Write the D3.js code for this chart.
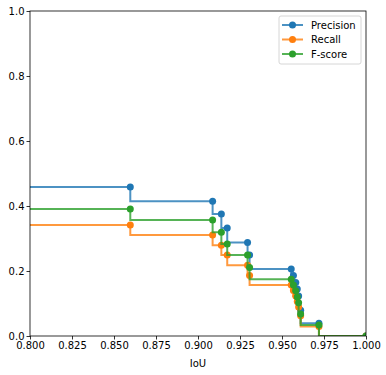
<!DOCTYPE html>
<html>
<head>
<meta charset="utf-8">
<script src="https://cdn.jsdelivr.net/npm/d3@7"></script>
<style>
  body { margin: 0; background: white; }
  text { font-family: "DejaVu Sans", sans-serif; }
</style>
</head>
<body>
<div id="vis"></div>
<script>
// valores (el primero queda fuera del eje, a la izquierda)
const IOU = [0.5, 0.8597, 0.9087, 0.9139, 0.9174, 0.9295, 0.9307, 0.9555, 0.9568, 0.9582, 0.9591, 0.9599, 0.9611, 0.972, 1.0];
const PRECISION = [0.4585, 0.4585, 0.4145, 0.3754, 0.332, 0.288, 0.249, 0.206, 0.186, 0.165, 0.145, 0.123, 0.079, 0.039, 0];
const RECALL = [0.3415, 0.3415, 0.311, 0.279, 0.249, 0.218, 0.186, 0.157, 0.140, 0.123, 0.106, 0.089, 0.062, 0.029, 0];
const FSCORE = [0.3908, 0.3908, 0.357, 0.319, 0.283, 0.249, 0.211, 0.175, 0.157, 0.139, 0.120, 0.102, 0.068, 0.034, 0];

const SERIES = ["Precision", "Recall", "F-score"];
const COLORS = ["#1f77b4", "#ff7f0e", "#2ca02c"];

const X_TICKS = [0.8, 0.825, 0.85, 0.875, 0.9, 0.925, 0.95, 0.975, 1.0];
const Y_TICKS = [0, 0.2, 0.4, 0.6, 0.8, 1.0];

const WIDTH = 386;
const HEIGHT = 375;
const M = { left: 30, right: 20, top: 11, bottom: 39 };

const SVG = d3.select("#vis").append("svg")
  .attr("width", WIDTH).attr("height", HEIGHT);

const escalaX = d3.scaleLinear().domain([0.8, 1.0]).range([M.left, WIDTH - M.right]);
const escalaY = d3.scaleLinear().domain([0, 1]).range([HEIGHT - M.bottom, M.top]);

SVG.append("clipPath").attr("id", "clip")
  .append("rect")
  .attr("x", M.left).attr("y", M.top)
  .attr("width", WIDTH - M.left - M.right)
  .attr("height", HEIGHT - M.top - M.bottom);

const datos = [PRECISION, RECALL, FSCORE].map((vals, k) => ({
  name: SERIES[k],
  color: COLORS[k],
  points: vals.map((v, i) => ({ x: IOU[i], y: v }))
}));

const linea = d3.line()
  .x(d => escalaX(d.x))
  .y(d => escalaY(d.y))
  .curve(d3.curveStepBefore);

const plot = SVG.append("g").attr("clip-path", "url(#clip)");

datos.forEach(s => {
  const G = plot.append("g");
  G.append("path")
    .attr("d", linea(s.points))
    .attr("fill", "none")
    .attr("stroke", s.color)
    .attr("stroke-opacity", 0.8)
    .attr("stroke-width", 2);
  G.selectAll("circle")
    .data(s.points)
    .join("circle")
    .attr("cx", d => escalaX(d.x))
    .attr("cy", d => escalaY(d.y))
    .attr("r", 3.5)
    .attr("fill", s.color);
});

// ejes
const ejeX = SVG.append("g")
  .attr("transform", `translate(0, ${HEIGHT - M.bottom})`)
  .call(d3.axisBottom(escalaX).tickValues(X_TICKS).tickFormat(d3.format(".3f")).tickSizeOuter(0).tickSize(3.5).tickPadding(2));
const ejeY = SVG.append("g")
  .attr("transform", `translate(${M.left}, 0)`)
  .call(d3.axisLeft(escalaY).tickValues(Y_TICKS).tickFormat(d3.format(".1f")).tickSizeOuter(0).tickSize(3.5).tickPadding(2));

[ejeX, ejeY].forEach(eje => {
  eje.select(".domain").remove();
  eje.selectAll("line").attr("stroke", "black").attr("stroke-width", 0.8);
  eje.selectAll("text").attr("font-size", 10).attr("fill", "black")
    .attr("font-family", "DejaVu Sans");
});

SVG.append("rect")
  .attr("x", M.left).attr("y", M.top)
  .attr("width", WIDTH - M.left - M.right)
  .attr("height", HEIGHT - M.top - M.bottom)
  .attr("fill", "none")
  .attr("stroke", "black")
  .attr("stroke-width", 0.8);

SVG.append("text")
  .attr("x", (M.left + WIDTH - M.right) / 2)
  .attr("y", 367)
  .attr("text-anchor", "middle")
  .attr("font-size", 10)
  .text("IoU");

// leyenda
const leyenda = SVG.append("g").attr("transform", "translate(279, 16)");
leyenda.append("rect")
  .attr("width", 82).attr("height", 48)
  .attr("rx", 2)
  .attr("fill", "white").attr("fill-opacity", 0.8)
  .attr("stroke", "#cccccc").attr("stroke-width", 0.8);

datos.forEach((s, i) => {
  const y = 9 + i * 14.5;
  leyenda.append("line")
    .attr("x1", 3).attr("x2", 24)
    .attr("y1", y).attr("y2", y)
    .attr("stroke", s.color).attr("stroke-opacity", 0.8).attr("stroke-width", 2);
  leyenda.append("circle")
    .attr("cx", 13.5).attr("cy", y).attr("r", 3.5).attr("fill", s.color);
  leyenda.append("text")
    .attr("x", 32).attr("y", y)
    .attr("dy", "0.35em")
    .attr("font-size", 10)
    .text(s.name);
});
</script>
</body>
</html>
